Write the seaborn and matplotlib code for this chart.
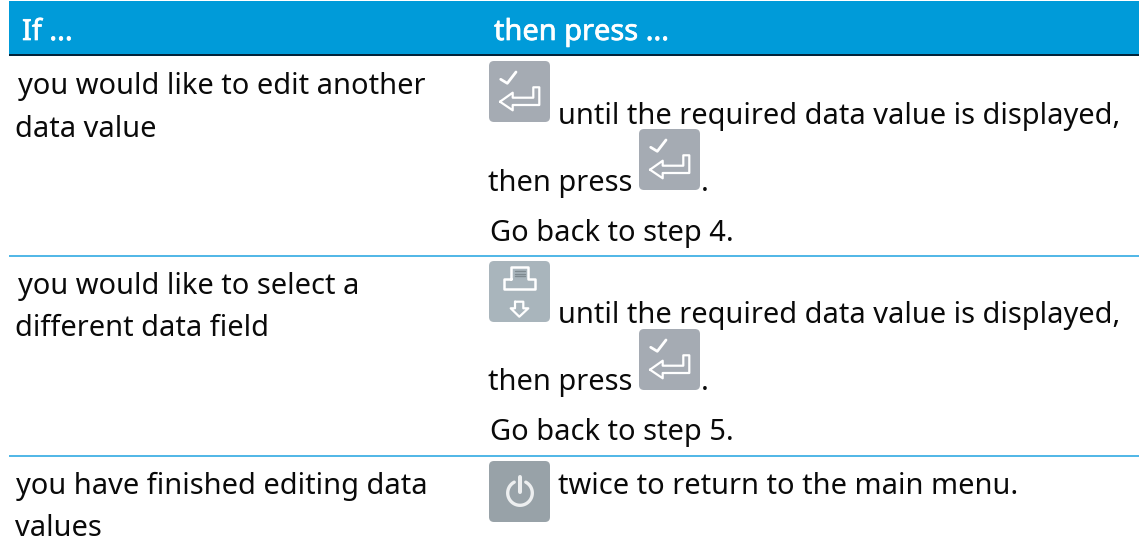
import numpy as np
import seaborn as sns
import matplotlib
matplotlib.use('Agg')
import matplotlib.pyplot as plt
import matplotlib.patheffects as pe
from matplotlib.patches import FancyBboxPatch, Rectangle

header_labels = ['If ...', 'then press ...']
condition_lines = [['you would like to edit another', 'data value'],
                   ['you would like to select a', 'different data field'],
                   ['you have finished editing data', 'values']]
until_text = 'until the required data value is displayed,'
then_text = 'then press'
back_texts = ['Go back to step 4.', 'Go back to step 5.']
twice_text = 'twice to return to the main menu.'

HEADER_BLUE = '#009BD9'
RULE_BLUE = '#1FA3E0'
ENTER_GREY = '#A5ABB3'
PRINT_GREY = '#A9B5BC'
POWER_GREY = '#98A2A8'
TEXT_COLOR = '#0A0A0A'
FONT_PX = 29

sns.set_theme(style='white')
plt.rcParams['font.family'] = ['Noto Sans', 'DejaVu Sans']
font_pt = FONT_PX * 72 / 100


def put_text(ax, x, y, s, color=TEXT_COLOR):
    return ax.text(x, y, s, fontsize=font_pt, color=color, va='baseline', ha='left')


def draw_box(ax, x, y, color):
    ax.add_patch(FancyBboxPatch((x + 3, y + 3), 55, 55, boxstyle='round,pad=3,rounding_size=5',
                                fc=color, ec='none', zorder=2))


def draw_shape(ax, x, y, pts, lw=1.6, color='white', closed=False):
    pts = np.array(pts, dtype=float)
    if closed:
        pts = np.vstack([pts, pts[0]])
    ax.plot(x + pts[:, 0], y + pts[:, 1], color=color, lw=lw, zorder=3, solid_joinstyle='round')


def enter_key(ax, x, y):
    draw_box(ax, x, y, ENTER_GREY)
    draw_shape(ax, x, y, [(11.7, 18.3), (18.3, 22.3), (27, 11)], lw=2)
    draw_shape(ax, x, y, [(11, 40.7), (23.7, 31.7), (23.7, 36.7), (44.3, 36.7), (44.3, 26.3),
                          (50.3, 26.3), (50.3, 44), (23.7, 44), (23.7, 49.3)], closed=True)


def print_key(ax, x, y):
    draw_box(ax, x, y, PRINT_GREY)
    draw_shape(ax, x, y, [(21.7, 18), (21.7, 5.7), (39.3, 5.7), (39.3, 18), (46, 18), (46, 28.3),
                          (15.3, 28.3), (15.3, 18), (21.7, 18)], lw=1.8)
    for ly in [10, 12.5, 15]:
        draw_shape(ax, x, y, [(26, ly), (35.5, ly)], lw=1, color='#7F8A90')
    draw_shape(ax, x, y, [(26, 40.7), (34.3, 40.7), (34.3, 47.3), (39.3, 47.3), (30.3, 55.7),
                          (21.7, 47.3), (26, 47.3)], closed=True)


def power_key(ax, x, y):
    draw_box(ax, x, y, POWER_GREY)
    ang = np.radians(np.linspace(118, 422, 60))
    arc = np.column_stack([31 + 12.3 * np.cos(ang), 32 - 12.3 * np.sin(ang)])
    draw_shape(ax, x, y, arc, lw=2.4, color='#EDEFF0')
    draw_shape(ax, x, y, [(31, 16), (31, 30.5)], lw=2.9, color='#EDEFF0')


fig = plt.figure(figsize=(11.39, 5.46), dpi=100, facecolor='white')
ax = fig.add_axes([0, 0, 1, 1])
ax.set_xlim(0, 1139)
ax.set_ylim(546, 0)
ax.axis('off')

# header band
ax.add_patch(Rectangle((9, 1), 1130, 53, fc=HEADER_BLUE, ec='none'))
ax.add_patch(Rectangle((9, 54), 1130, 2, fc='#03243A', ec='none'))
ax.plot([9, 1139], [255.5, 255.5], color=RULE_BLUE, lw=1.1, solid_capstyle='butt')
ax.plot([9, 1139], [455.5, 455.5], color=RULE_BLUE, lw=1.1, solid_capstyle='butt')
for hx, label in zip([22, 494], header_labels):
    t = put_text(ax, hx, 40, label, 'white')
    t.set_path_effects([pe.withStroke(linewidth=0.5, foreground='white')])

# left column
put_text(ax, 18, 94, condition_lines[0][0])
put_text(ax, 15, 137, condition_lines[0][1])
put_text(ax, 18, 294, condition_lines[1][0])
put_text(ax, 15, 336, condition_lines[1][1])
put_text(ax, 16, 494, condition_lines[2][0])
put_text(ax, 15, 536, condition_lines[2][1])

# right column
enter_key(ax, 489, 61)
put_text(ax, 558, 124, until_text)
put_text(ax, 488, 191, then_text)
enter_key(ax, 639, 129)
put_text(ax, 701, 191, '.')
put_text(ax, 490, 241, back_texts[0])

print_key(ax, 489, 261)
put_text(ax, 558, 323, until_text)
put_text(ax, 488, 390, then_text)
enter_key(ax, 639, 329)
put_text(ax, 701, 390, '.')
put_text(ax, 490, 440, back_texts[1])

power_key(ax, 489, 461)
put_text(ax, 558, 494, twice_text)

fig.savefig('out.png', dpi=100)
plt.close(fig)
